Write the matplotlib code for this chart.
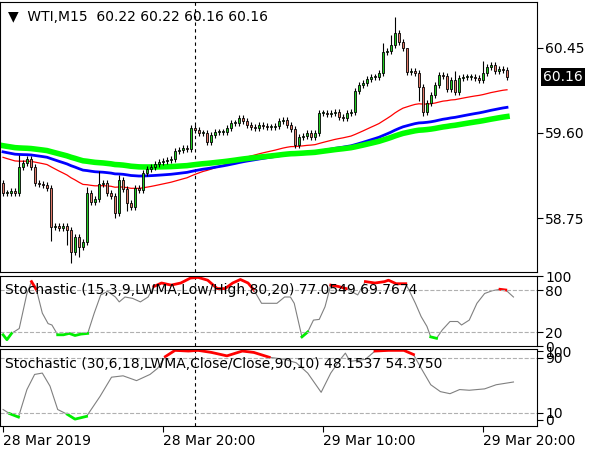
import numpy as np
import matplotlib
matplotlib.use("Agg")
import matplotlib.pyplot as plt

closes = [59.00,59.00,59.02,59.00,59.26,59.30,59.34,59.26,59.10,59.09,59.08,59.05,58.66,58.67,58.65,58.67,58.63,58.41,58.56,58.46,
          58.51,59.00,58.91,58.94,59.09,59.10,59.00,58.97,58.80,59.13,59.04,58.90,58.86,59.05,59.03,59.20,59.24,59.26,59.29,59.31,
          59.32,59.33,59.34,59.42,59.43,59.45,59.44,59.65,59.63,59.60,59.60,59.51,59.58,59.61,59.61,59.61,59.65,59.70,59.70,59.75,
          59.72,59.68,59.66,59.65,59.68,59.67,59.66,59.66,59.67,59.72,59.73,59.68,59.64,59.48,59.56,59.57,59.60,59.56,59.60,59.80,
          59.80,59.79,59.80,59.81,59.76,59.75,59.80,59.81,60.02,60.08,60.10,60.14,60.16,60.16,60.20,60.41,60.42,60.48,60.60,60.51,
          60.45,60.21,60.22,60.20,60.06,59.81,59.90,59.98,60.08,60.18,60.17,60.04,60.13,60.01,60.15,60.16,60.16,60.16,60.15,60.13,
          60.20,60.26,60.28,60.22,60.24,60.23,60.16]
first_open = 59.10
wick_high = {98: 60.76, 97: 60.58, 95: 60.50, 101: 60.33, 113: 60.22, 120: 60.32, 4: 59.38, 21: 59.06, 29: 59.18, 24: 59.22}
wick_low = {17: 58.30, 16: 58.48, 19: 58.36, 105: 59.77, 104: 59.92, 12: 58.52, 28: 58.75, 31: 58.82}
ma_seed = {"red": 59.37, "blue": 59.42, "green": 59.48}
ma_period = {"red": 55, "blue": 100, "green": 140}

st1_pts = [(8,16),(18,9),(30,18),(50,25),(70,75),(82,92),(95,80),(110,47),(125,32),(135,30),(150,16),(165,16),(180,18),(195,15),
           (210,17),(228,18),(245,47),(262,73),(280,78),(300,70),(310,63),(325,70),(345,68),(365,63),(385,70),(400,85),(420,90),
           (445,87),(470,90),(495,97),(515,98),(540,94),(565,82),(585,82),(605,90),(625,95),(645,90),(660,80),(680,61),(700,61),
           (720,61),(740,70),(755,70),(765,61),(775,37),(785,13),(800,20),(815,37),(830,38),(845,56),(860,87),(880,85),(900,82),
           (930,73),(950,92),(975,90),(1000,92),(1010,94),(1030,89),(1055,89),(1065,78),(1080,61),(1095,42),(1110,28),(1120,13),
           (1135,11),(1150,23),(1170,35),(1190,35),(1200,30),(1220,37),(1240,61),(1260,75),(1280,79),(1300,81),(1315,80),(1335,70)]
st2_pts = [(8,15),(25,9),(48,4),(70,44),(90,66),(110,68),(130,49),(150,15),(175,8),(195,1),(225,5),(260,34),(290,62),(320,64),
           (355,57),(390,66),(410,75),(430,92),(455,101),(490,100),(515,101),(550,98),(590,93),(630,100),(660,98),(700,91),
           (740,88),(770,83),(800,68),(835,40),(860,68),(885,88),(898,97),(910,85),(950,88),(975,100),(1010,101),(1050,101),
           (1075,95),(1095,75),(1120,51),(1145,41),(1170,38),(1195,44),(1220,43),(1260,45),(1290,51),(1335,55)]
time_ticks = [0, 40, 80, 120]
time_labels = ["28 Mar 2019", "28 Mar 20:00", "29 Mar 10:00", "29 Mar 20:00"]
price_ticks = [60.45, 59.60, 58.75]
last_price = 60.16

closes = np.array(closes)
n = len(closes)
opens = np.concatenate([[first_open], closes[:-1]])
x = np.arange(n)

fig = plt.figure(figsize=(6, 4.5), dpi=100)
W = 537/600
ax = fig.add_axes([0, 1-272/450, W, 270/450])
ax2 = fig.add_axes([0, 1-346/450, W, 70/450])
ax3 = fig.add_axes([0, 1-426/450, W, 77/450])
for a in (ax, ax2, ax3):
    a.set_xlim(-0.75, 133.5)
    a.axvline(48, color="black", ls=(0, (3, 3)), lw=0.8)
    a.yaxis.tick_right()
    a.tick_params(axis="y", length=4, labelsize=10, pad=2, direction="out")
    a.tick_params(axis="x", length=0)
    a.set_xticks([])

for name, col, lw in (("red", "red", 0.9), ("blue", "#0000ff", 2), ("green", "#00ff00", 4)):
    k = 2/(ma_period[name]+1); v = ma_seed[name]; vals = []
    for c in closes:
        v = v + k*(c-v); vals.append(v)
    ax.plot(x, vals, color=col, lw=lw, zorder=2)

for i in range(n):
    o, c = opens[i], closes[i]
    hi = wick_high.get(i, max(o, c)+0.03); lo = wick_low.get(i, min(o, c)-0.03)
    ax.vlines(i, lo, hi, color="black", lw=0.8, zorder=3)
    col = "#22cc22" if c >= o else "#e07a6a"
    h = max(abs(c-o), 0.008)
    ax.bar(i, h, bottom=min(o, c), width=0.7, color=col, edgecolor="black", lw=0.6, zorder=4)

ax.set_ylim(58.21, 60.91)
ax.set_yticks(price_ticks)
ax.set_yticklabels([f"{p:.2f}" for p in price_ticks])
ax.text(1.012, (last_price-58.21)/2.70, f"{last_price:.2f}", transform=ax.transAxes, fontsize=10,
        color="white", va="center", ha="left", bbox=dict(facecolor="black", edgecolor="none", pad=1.5))
ax.text(0.015, 0.97, "▼  WTI,M15  60.22 60.22 60.16 60.16", transform=ax.transAxes, fontsize=10, va="top")

def stoch(a, pts, hi, lo, label, ylim, ticks):
    xi = np.array([(p[0]/2.6-3)/4 for p in pts]); v = np.array([p[1] for p in pts], float)
    a.plot(xi, v, color="#808080", lw=0.8)
    a.plot(xi, np.where(v >= hi, v, np.nan), color="red", lw=2)
    a.plot(xi, np.where(v <= lo, v, np.nan), color="#00ee00", lw=2)
    a.axhline(hi, color="#b0b0b0", ls="--", lw=0.8); a.axhline(lo, color="#b0b0b0", ls="--", lw=0.8)
    a.set_ylim(*ylim); a.set_yticks(ticks); a.set_yticklabels([str(t) for t in ticks])
    a.text(0.01, 0.9, label, transform=a.transAxes, fontsize=10, va="top")

stoch(ax2, st1_pts, 80, 20, "Stochastic (15,3,9,LWMA,Low/High,80,20) 77.0549 69.7674", (0, 100), [100, 80, 20, 0])
stoch(ax3, st2_pts, 90, 10, "Stochastic (30,6,18,LWMA,Close/Close,90,10) 48.1537 54.3750", (-9, 103), [100, 90, 10, 0])

ax3.set_xticks(time_ticks)
ax3.set_xticklabels(time_labels, ha="left", fontsize=10)
ax3.tick_params(axis="x", length=4, pad=2)
fig.savefig("out.png", dpi=100)
